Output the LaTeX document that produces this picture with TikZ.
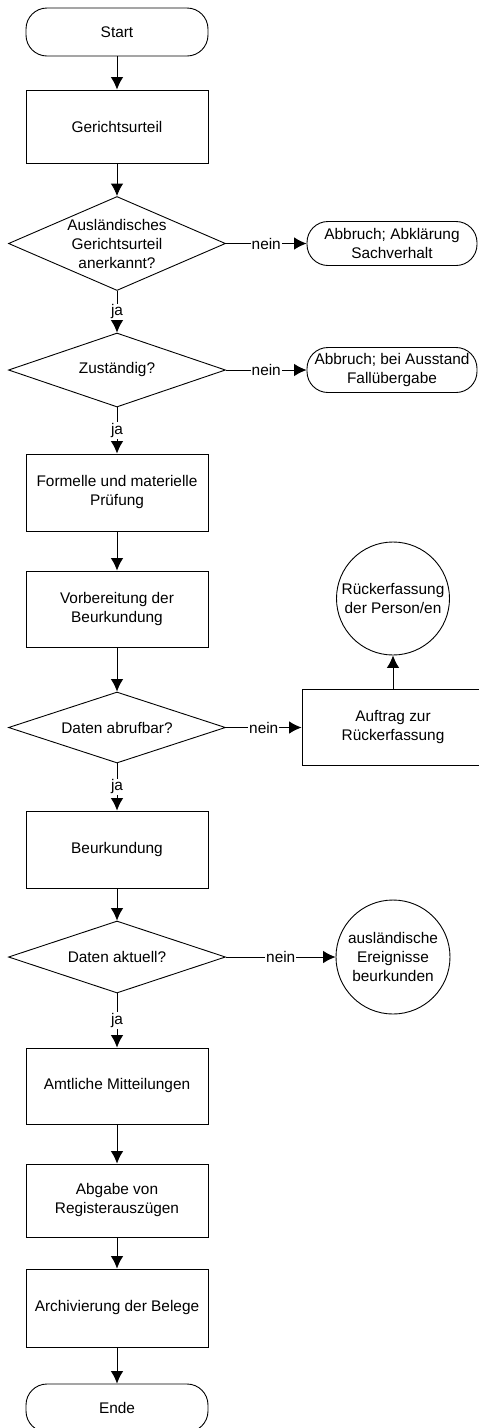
\documentclass[tikz,border=0pt]{standalone}
\usepackage{fontspec}
\setmainfont{Liberation Sans}
\usetikzlibrary{arrows.meta, shapes.geometric}

\begin{document}
\begin{tikzpicture}[font=\fontsize{15.4}{19}\selectfont, line width=0.9pt,
    terminal/.style={draw, rectangle, rounded corners=21pt, minimum width=182pt,
                     minimum height=48pt, inner sep=0pt, align=center},
    process/.style={draw, rectangle, minimum width=182pt, align=center},
    decision/.style={draw, diamond, aspect=2.9, minimum width=217pt,
                     inner sep=0pt, align=center},
    state/.style={draw, circle, minimum size=113pt, inner sep=0pt, align=center},
    flow/.style={arrows={-Latex[length=12.5pt, width=12.5pt]}},
    answer/.style={midway, fill=white, inner sep=1pt}]
      \begin{scope}[x=1pt, y=-1pt]
        \useasboundingbox (0, 0) rectangle (479, 1428);

        % Main column.
        \node [terminal] (start) at (117, 32) {Start};
        \node [process, minimum height=73pt] (urteil) at (117, 126.5) {Gerichtsurteil};
        \node [decision, aspect=2.31, minimum height=94pt] (anerkannt) at (117, 243.5)
              {Ausländisches\\Gerichtsurteil\\anerkannt?};
        \node [decision, minimum height=74pt] (zustaendig) at (117, 370) {Zuständig?};
        \node [process, minimum height=77pt] (pruefung) at (117, 492.5)
              {Formelle und materielle\\Prüfung};
        \node [process, minimum height=76pt] (vorbereitung) at (117, 609)
              {Vorbereitung der\\Beurkundung};
        \node [decision, minimum height=71pt] (abrufbar) at (117, 727.5) {Daten abrufbar?};
        \node [process, minimum height=77pt] (beurkundung) at (117, 849.5) {Beurkundung};
        \node [decision, minimum height=72pt] (aktuell) at (117, 957) {Daten aktuell?};
        \node [process, minimum height=76pt] (mitteilungen) at (117, 1086)
              {Amtliche Mitteilungen};
        \node [process, minimum height=73pt] (abgabe) at (117, 1200.5)
              {Abgabe von\\Registerauszügen};
        \node [process, minimum height=78pt] (archiv) at (117, 1308)
              {Archivierung der Belege};
        \node [terminal] (ende) at (117, 1408) {Ende};

        % Side branches.
        \node [terminal, minimum width=170pt, minimum height=44pt] (abbruchA) at (392, 243.5)
              {Abbruch; Abklärung\\Sachverhalt};
        \node [terminal, minimum width=170pt, minimum height=45pt] (abbruchB) at (392, 370)
              {Abbruch; bei Ausstand\\Fallübergabe};
        \node [process, minimum height=76pt] (auftrag) at (393, 727.5)
              {Auftrag zur\\Rückerfassung};
        \node [state] (rueckerfassung) at (393, 598.5) {Rückerfassung\\der Person/en};
        \node [state, minimum size=114pt] (ereignisse) at (393, 957)
              {ausländische\\Ereignisse\\beurkunden};

        % Connectors.
        \draw [flow] (start) -- (urteil);
        \draw [flow] (urteil) -- (anerkannt);
        \draw [flow] (anerkannt) -- node [answer] {nein} (abbruchA);
        \draw [flow] (anerkannt) -- node [answer] {ja} (zustaendig);
        \draw [flow] (zustaendig) -- node [answer] {nein} (abbruchB);
        \draw [flow] (zustaendig) -- node [answer] {ja} (pruefung);
        \draw [flow] (pruefung) -- (vorbereitung);
        \draw [flow] (vorbereitung) -- (abrufbar);
        \draw [flow] (abrufbar) -- node [answer] {nein} (auftrag);
        \draw [flow] (auftrag) -- (rueckerfassung);
        \draw [flow] (abrufbar) -- node [answer] {ja} (beurkundung);
        \draw [flow] (beurkundung) -- (aktuell);
        \draw [flow] (aktuell) -- node [answer] {nein} (ereignisse);
        \draw [flow] (aktuell) -- node [answer] {ja} (mitteilungen);
        \draw [flow] (mitteilungen) -- (abgabe);
        \draw [flow] (abgabe) -- (archiv);
        \draw [flow] (archiv) -- (ende);

      \end{scope}
    \end{tikzpicture}
\end{document}
